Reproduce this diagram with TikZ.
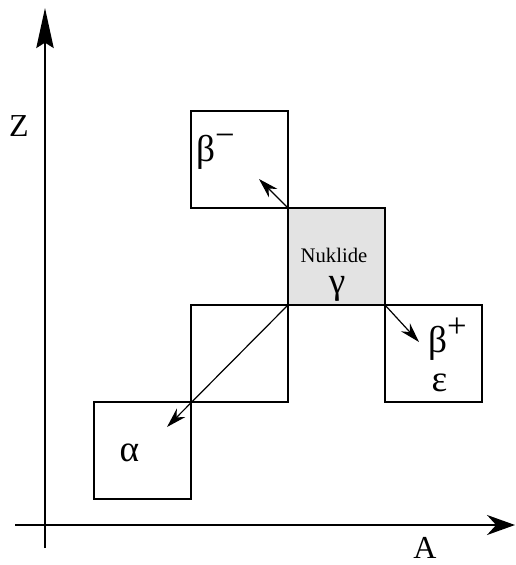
\documentclass[tikz,border=0pt]{standalone}
\usepackage{fontspec}
\setmainfont{Liberation Serif}
\usetikzlibrary{positioning,arrows.meta}
\newcommand{\hoch}[1]{\raisebox{0.4em}{\fontsize{26}{26}\selectfont #1}}
\begin{document}
\begin{tikzpicture}[x=0.75pt,y=-0.75pt,
  kasten/.style={draw,line width=1.8pt,minimum size=72.75pt,inner sep=0pt,outer sep=0pt},
  gross/.style={font=\fontsize{24}{28}\selectfont,inner sep=0pt},
  griech/.style={font=\fontsize{28}{32}\selectfont,inner sep=0pt},
  pfeil/.style={-{Stealth[length=15pt,width=9pt]},line width=0.9pt}]
\useasboundingbox (0,0) rectangle (516,565);
\coordinate (zunten) at (45,548);
\coordinate (zoben) at (45,8);
\coordinate (alinks) at (15,525);
\coordinate (arechts) at (515,525);
\draw[-{Stealth[length=30pt,width=13pt,inset=4pt]},line width=1.5pt] (zunten)--(zoben);
\draw[-{Stealth[length=21pt,width=15pt]},line width=1.5pt] (alinks)--(arechts);
\node[gross] (zlabel) at (19,126) {Z};
\node[gross,anchor=base] (alabel) at (425,558) {A};
\node[kasten,fill=gray!22] (nuklide) at (336.5,256.5) {};
\node[kasten,above left=0pt of nuklide] (bminus) {};
\node[kasten,below left=0pt of nuklide] (mitte) {};
\node[kasten,below right=0pt of nuklide] (bplus) {};
\node[kasten,below left=0pt of mitte] (alpha) {};
\node[font=\fontsize{15.5}{18}\selectfont,inner sep=0pt,anchor=base] (tnuk) at (334,262) {Nuklide};
\node[griech,anchor=base] (tgamma) at (337,293) {γ};
\node[griech] (tbm) at ([shift={(-24,-8)}]bminus.center) {β\hoch{−}};
\node[griech] (tbp) at ([shift={(14,-14)}]bplus.center) {β\hoch{+}};
\node[griech] (teps) at ([shift={(6,29)}]bplus.center) {ε};
\node[griech] (talpha) at ([shift={(-13,2)}]alpha.center) {α};
\coordinate (zbm) at (259,179);
\coordinate (zbp) at (419,342);
\coordinate (zal) at (167,427);
\draw[pfeil] (nuklide.north west)--(zbm);
\draw[pfeil] (nuklide.south east)--(zbp);
\draw[pfeil] (nuklide.south west)--(zal);
\end{tikzpicture}
\end{document}
